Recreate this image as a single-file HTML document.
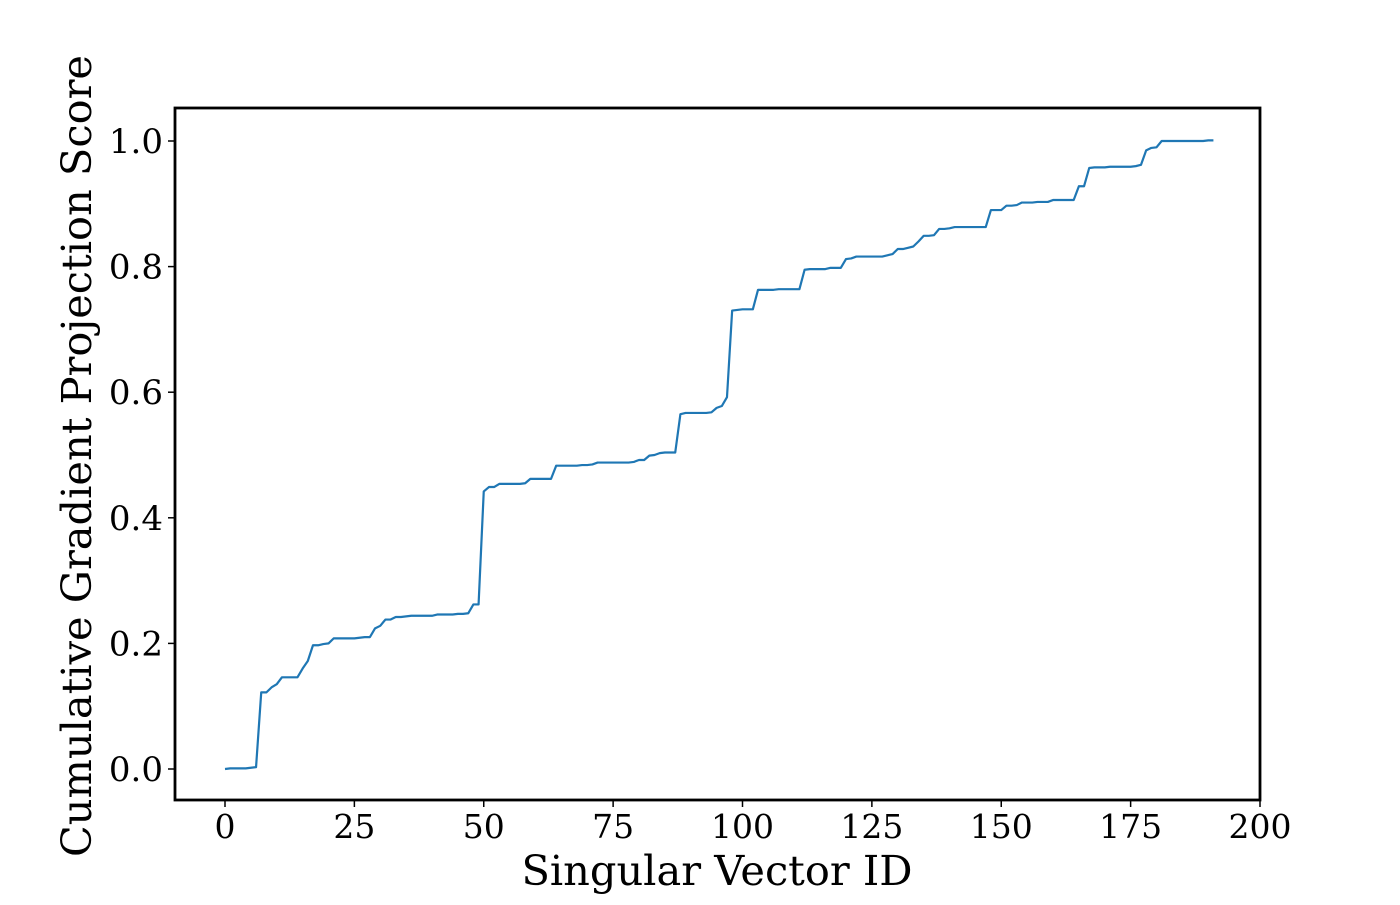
<!DOCTYPE html>
<html><head><meta charset="utf-8"><style>
html,body{margin:0;padding:0;background:#fff;}
svg text{font-family:"DejaVu Serif","Liberation Serif",serif;fill:#000;}
</style></head><body>
<svg id="chart" width="1400" height="900" viewBox="0 0 1400 900" xmlns="http://www.w3.org/2000/svg">
<g id="axes"></g>
</svg>
<script>
const xTicks=[0,25,50,75,100,125,150,175,200];
const yTicks=[0.0,0.2,0.4,0.6,0.8,1.0];
const yTickLabels=["0.0","0.2","0.4","0.6","0.8","1.0"];
const scores=[
0.000,0.001,0.001,0.001,0.001,0.002,0.003,0.122,0.122,0.130,
0.135,0.146,0.146,0.146,0.146,0.160,0.172,0.197,0.197,0.199,
0.200,0.208,0.208,0.208,0.208,0.208,0.209,0.210,0.210,0.224,
0.228,0.238,0.238,0.242,0.242,0.243,0.244,0.244,0.244,0.244,
0.244,0.246,0.246,0.246,0.246,0.247,0.247,0.248,0.262,0.262,
0.442,0.449,0.449,0.454,0.454,0.454,0.454,0.454,0.455,0.462,
0.462,0.462,0.462,0.462,0.483,0.483,0.483,0.483,0.483,0.484,
0.484,0.485,0.488,0.488,0.488,0.488,0.488,0.488,0.488,0.489,
0.492,0.492,0.499,0.500,0.503,0.504,0.504,0.504,0.565,0.567,
0.567,0.567,0.567,0.567,0.568,0.575,0.578,0.592,0.730,0.731,
0.732,0.732,0.732,0.763,0.763,0.763,0.763,0.764,0.764,0.764,
0.764,0.764,0.795,0.796,0.796,0.796,0.796,0.798,0.798,0.798,
0.812,0.813,0.816,0.816,0.816,0.816,0.816,0.816,0.818,0.820,
0.828,0.828,0.830,0.832,0.840,0.849,0.849,0.850,0.860,0.860,
0.861,0.863,0.863,0.863,0.863,0.863,0.863,0.863,0.890,0.890,
0.890,0.897,0.897,0.898,0.902,0.902,0.902,0.903,0.903,0.903,
0.906,0.906,0.906,0.906,0.906,0.928,0.928,0.957,0.958,0.958,
0.958,0.959,0.959,0.959,0.959,0.959,0.960,0.962,0.985,0.989,
0.990,1.000,1.000,1.000,1.000,1.000,1.000,1.000,1.000,1.000,
1.001,1.001];
const NS="http://www.w3.org/2000/svg";
const L=175,R=1260,T=108,B=800;
function xs(v){return 225+v*(1260-225)/200;}
function ys(v){return 769-v*628;}
const g=document.getElementById('axes');
function mk(tag,attrs){const e=document.createElementNS(NS,tag);for(const k in attrs)e.setAttribute(k,attrs[k]);g.appendChild(e);return e;}
let d="";scores.forEach((v,i)=>{d+=(i?"L":"M")+xs(i).toFixed(2)+","+ys(v).toFixed(2);});
const line=mk('path',{d:d,fill:'none',stroke:'#1f77b4','stroke-width':2.2,'stroke-linejoin':'round'});


const fr=mk('rect',{x:L,y:T,width:R-L,height:B-T,fill:'none',stroke:'#000','stroke-width':2.8});


xTicks.forEach(t=>{
 const tk=mk('line',{x1:xs(t),x2:xs(t),y1:B,y2:B+7,stroke:'#000','stroke-width':1.5});
 
 
 const tx=mk('text',{x:xs(t),y:838,'font-size':33,'text-anchor':'middle'});
 tx.textContent=String(t);
 
 
});
yTicks.forEach((t,i)=>{
 const tk=mk('line',{x1:L-7,x2:L,y1:ys(t),y2:ys(t),stroke:'#000','stroke-width':1.5});
 
 
 const tx=mk('text',{x:163,y:ys(t)+12,'font-size':34,'text-anchor':'end'});
 tx.textContent=yTickLabels[i];
 
 
});
const xl=mk('text',{x:717,y:885,'font-size':41.5,'text-anchor':'middle'});
xl.textContent="Singular Vector ID";


const yl=mk('text',{x:0,y:0,'font-size':41,'text-anchor':'middle','textLength':802,'lengthAdjust':'spacingAndGlyphs',transform:'translate(91,456) rotate(-90)'});
yl.textContent="Cumulative Gradient Projection Score";


</script>
</body></html>
